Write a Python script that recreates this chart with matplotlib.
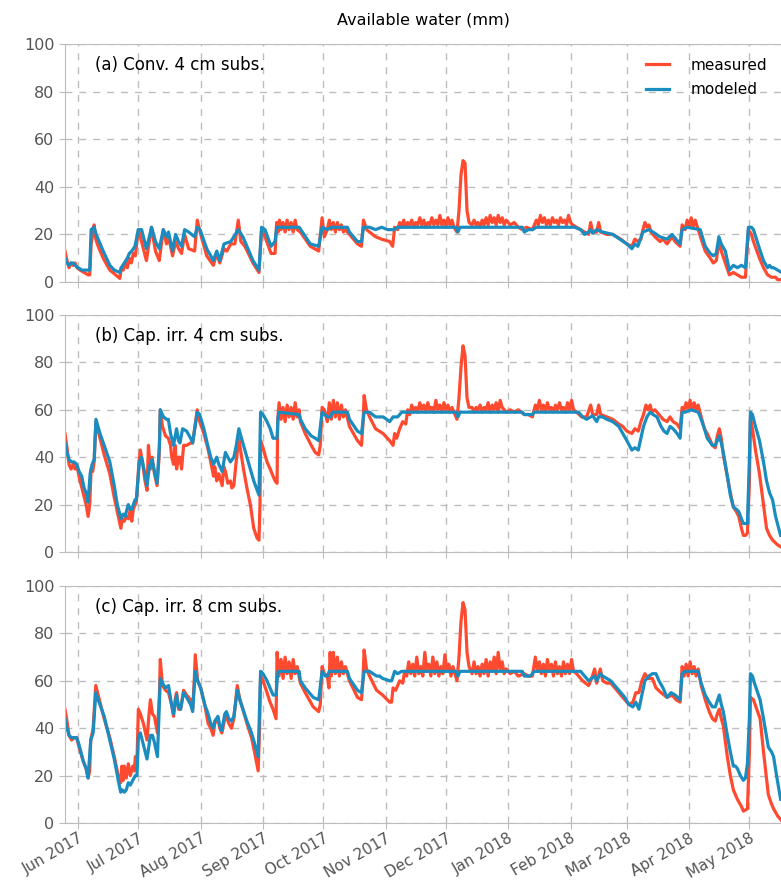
import numpy as np
import pandas as pd
import matplotlib
matplotlib.use("Agg")
import matplotlib.pyplot as plt
import matplotlib.dates as mdates

# day offsets from 2017-05-25 and values (mm)
start = pd.Timestamp("2017-05-25")

# ---- (a) Conv. 4 cm subs. ----
a_meas_day = [0.5, 1.5, 2.5, 3.5, 4.5, 5.5, 6.5, 8, 10, 12, 12.8, 13.5, 14.3, 15, 15.8, 17, 19.5, 22.8, 25, 27.8,
              28.5, 29.5, 30.5, 31.5, 32.5, 33.5, 34.5, 35.5, 37, 38.6, 41, 43.5, 45.5, 47.4, 49.4, 51, 52, 54, 55.5, 57,
              58.5, 60, 62, 65, 66.3, 67.7, 71, 74.3, 76, 77.5, 79.6, 81, 83, 85, 86.7, 88, 90, 94, 97, 98.3,
              100, 103, 105, 105.8, 106.5, 107.2, 108, 109, 110, 111, 112, 113, 114, 115, 116, 117.6, 122.5, 126.7, 128.4, 129.5,
              131, 132, 133, 134, 135, 136, 137, 138, 139, 140, 142, 146, 148, 149, 150.5, 155, 158, 162, 163.5, 164.5,
              166, 167, 168, 169, 170, 171, 172, 173, 174, 175, 176, 177, 178, 179, 180, 181, 182, 183, 184, 185,
              186, 187, 188, 189, 190, 191, 192, 193, 194, 195.5, 196.5, 197.5, 198.5, 199.5, 200.5, 201.5, 203, 204, 205, 206,
              207, 208, 209, 210, 211, 212, 213, 214, 215, 216, 217, 218, 219, 220, 222, 224, 226, 228, 230, 233,
              235, 236, 237, 238, 239, 240, 241, 242, 243, 244, 245, 246, 247, 248, 249, 250, 251, 252, 253, 255,
              257, 259, 261, 262, 263, 265, 266, 267, 270, 273, 277, 280, 282.5, 284, 285.5, 287, 288, 289, 290, 291,
              292, 294, 296.5, 298, 300, 302.5, 304, 306.5, 307.5, 309, 310, 311, 312, 313, 314, 315.5, 317, 319, 321.5, 323,
              324.5, 325.8, 327, 329, 331, 333, 335, 337, 339, 340.5, 342, 343, 346, 348, 350, 352, 354, 355, 357]
a_meas = [13, 9, 6, 8, 7, 8, 6, 5, 4, 3, 3, 16, 20, 24, 18, 15, 10, 5, 3.5, 1.5,
          6, 5, 8, 6, 10, 8, 12, 11, 22, 17, 9, 23, 13, 9, 22, 16, 19, 11, 17, 14,
          12, 20, 14, 13, 26, 21, 11, 7, 12, 8, 14, 13, 16, 16, 26, 17, 15, 8, 4, 22,
          19, 12, 12, 25, 21, 26, 22, 25, 21, 26, 22, 25, 21, 26, 22, 21, 15, 13, 27, 19,
          22, 26, 22, 25, 21, 25, 22, 24, 21, 22, 20, 16, 15, 26, 22, 19, 18, 17, 15, 23,
          22, 25, 23, 26, 23, 25, 24, 26, 23, 25, 24, 27, 24, 26, 23, 25, 24, 27, 24, 26,
          24, 28, 24, 26, 23, 27, 24, 26, 23, 21, 30, 45, 51, 50, 30, 25, 24, 26, 24, 25,
          23, 26, 24, 27, 24, 28, 25, 27, 24, 28, 25, 27, 24, 26, 24, 25, 23, 22, 23, 22,
          26, 24, 28, 25, 27, 24, 26, 24, 27, 25, 26, 24, 27, 25, 26, 24, 28, 25, 24, 23,
          22, 21, 20, 25, 21, 21, 25, 21, 20, 20, 18, 16, 15, 18, 17, 18, 22, 25, 23, 24,
          21, 19, 17, 18, 16, 19, 17, 15, 24, 22, 26, 23, 27, 23, 26, 22, 18, 13, 10, 8,
          9, 17, 13, 8, 3, 4, 3, 2, 2, 22, 20, 17, 10, 6, 3, 2, 2, 1, 1]
a_mod_day = [0.5, 1.5, 2.5, 3.5, 4.5, 5.5, 7, 9, 11, 12.8, 13.5, 15, 16, 19.5, 22.8, 25, 27.8, 28.5, 30, 31.5,
             32.5, 33.7, 35.3, 37, 38.6, 41, 43.6, 45.5, 47.4, 49.4, 51, 52, 54, 55.5, 57, 58.5, 60, 62, 65, 66.3,
             67.7, 71, 74.3, 76, 77.5, 79.6, 83, 86.7, 89, 94, 97, 98.3, 100, 103, 105, 105.8, 117, 122.5, 126.7, 128.4,
             131, 133, 141, 142, 146, 148, 149, 152, 155, 158, 161, 164, 166, 195, 196, 197, 228, 229, 231, 233,
             235, 254, 257, 259, 261, 262, 263, 265, 268, 273, 280, 282.5, 284, 285.5, 288, 291, 293, 296.5, 300, 302.5,
             306.5, 307.5, 310, 316.5, 319, 321.5, 323, 324.5, 325.8, 327, 329, 331, 333, 335, 337, 339, 340.5, 342, 343, 346,
             348, 350, 351, 352, 353, 355, 357]
a_mod = [10, 8, 7, 8, 8, 7, 6, 5, 5, 5, 22, 23, 20, 13, 7, 5, 4, 6, 8, 10,
         12, 13, 15, 22, 22, 14, 23, 17, 14, 22, 19, 21, 13, 20, 17, 15, 22, 21, 19, 23,
         22, 14, 9, 13, 9, 16, 17, 22, 19, 9, 5, 23, 22, 15, 17, 23, 23, 16, 15, 23,
         22, 23, 23, 21, 17, 17, 23, 23, 22, 23, 22, 22, 23, 23, 21, 23, 23, 21, 22, 22,
         23, 23, 22, 20, 21, 22, 20.5, 22, 21, 20, 16, 14, 16, 15, 21, 22, 21, 19, 18, 20,
         16, 22, 23, 22, 15, 12, 11, 12, 19, 16, 13, 5, 7, 6, 7, 6, 23, 23, 22, 14,
         9, 6, 7, 6, 6, 5, 4]

# ---- (b) Cap. irr. 4 cm subs. ----
b_meas_day = [0.5, 1.5, 2.5, 3.5, 4.5, 5.5, 6.5, 8, 9.5, 11, 12, 12.8, 13.5, 14.3, 15, 15.9, 17.9, 20, 22.8, 25,
              26.5, 27.8, 28.3, 29, 30, 31, 32, 33, 33.7, 34.5, 35.3, 36, 37.3, 38, 39, 40.3, 41.3, 42, 43, 43.8,
              45, 46.3, 47.3, 47.9, 49, 50.5, 51.9, 53, 53.6, 54.5, 55.3, 56, 57, 57.7, 58.5, 59.5, 61, 63, 64, 65.5,
              66.3, 67.5, 69.6, 71.5, 73, 74.4, 75, 76, 77, 78.7, 79.5, 80.3, 81.5, 82.8, 83.5, 84.5, 85.5, 87, 88, 89.3,
              91, 92.7, 94.4, 96, 97, 97.5, 97.8, 99, 101, 102.6, 104, 105, 106, 106.3, 107, 108, 109, 110, 111, 112,
              113, 114, 115, 116, 117, 117.6, 120, 123, 125, 126.7, 127.5, 128.4, 129.5, 131, 132, 133, 134, 135, 136, 137,
              138, 139, 140, 142, 146, 148, 148.8, 149.3, 150.5, 152, 155, 158.7, 162, 163.7, 164.5, 165.5, 167, 168.5, 170, 171,
              172, 173, 174, 175, 176, 177, 178, 179, 180, 181, 182, 183, 184, 185, 186, 187, 188, 189, 190, 191,
              192, 193, 194, 195.5, 196.5, 197.5, 198.5, 199.5, 200.5, 201.5, 203, 204, 205, 206, 207, 208, 209, 210, 211, 212,
              213, 214, 215, 216, 217, 218, 219, 220, 222, 224, 226, 229, 231, 233, 234.5, 235.5, 236.5, 237.5, 238.5, 239.5,
              240.5, 241.5, 242.5, 243.5, 244.5, 245.5, 246.5, 247.5, 248.5, 249.5, 250.5, 251.5, 252.5, 253.5, 255, 257.5, 260, 262, 263, 265,
              266, 267, 270, 273, 276, 278, 280, 282.5, 284, 285.7, 287, 288.3, 289.5, 290.5, 291.6, 292.5, 294, 296, 298, 300,
              301.5, 303, 305, 306.5, 307.5, 308.5, 309.5, 310.5, 311.5, 312.5, 313.5, 314.5, 315.5, 317, 318.6, 320, 322.6, 324, 325, 326,
              327, 328, 330, 331.5, 333, 334.5, 335.7, 337, 338, 339, 340, 341, 341.5, 342.5, 344, 346, 348, 349.5, 351, 352.5,
              353.8, 355, 357]
b_meas = [50, 44, 37, 35, 37, 35, 36, 30, 25, 20, 15, 20, 35, 34, 38, 55, 48, 41, 33, 23,
          17, 12, 10, 14, 13, 15, 14, 18, 13, 18, 20, 21, 38, 43, 38, 30, 26, 45, 35, 40,
          33, 28, 40, 60, 53, 49, 48, 45, 40, 37, 45, 35, 40, 40, 35, 45, 45, 46, 46, 55,
          60, 55, 50, 44, 38, 32, 36, 30, 33, 28, 36, 34, 29, 30, 27, 28, 37, 48, 42, 35,
          27, 20, 10, 6, 5, 20, 47, 44, 38, 35, 32, 30, 29, 55, 63, 56, 61, 55, 62, 57,
          61, 56, 63, 57, 60, 55, 50, 45, 42, 41, 45, 61, 60, 55, 63, 56, 64, 57, 63, 56,
          62, 57, 60, 53, 47, 45, 55, 66, 60, 57, 52, 50, 47, 45, 50, 48, 52, 55, 54, 60,
          58, 62, 59, 61, 59, 63, 60, 62, 59, 63, 60, 61, 59, 64, 60, 62, 59, 63, 60, 62,
          59, 61, 59, 56, 65, 78, 87, 83, 65, 61, 61, 59, 61, 60, 62, 59, 61, 60, 63, 59,
          62, 60, 63, 59, 64, 61, 60, 59, 60, 59, 60, 58, 58, 57, 62, 60, 64, 60, 62, 59,
          63, 60, 61, 59, 62, 60, 63, 60, 61, 59, 63, 60, 64, 60, 59, 57, 57, 62, 58, 58,
          62, 58, 57, 56, 54, 53, 51, 50, 52, 51, 55, 58, 62, 60, 62, 59, 60, 58, 56, 55,
          57, 55, 54, 52, 61, 60, 63, 60, 64, 60, 63, 60, 62, 57, 52, 50, 45, 44, 49, 52,
          48, 41, 32, 25, 19, 17, 15, 10, 7, 7, 8, 30, 57, 52, 43, 33, 20, 10, 7, 5,
          4, 3, 2]
b_mod_day = [0.5, 1.5, 2.5, 3.8, 5, 6.3, 7.5, 8.8, 10, 11, 12, 13, 14, 15, 15.9, 17.9, 20, 22.8, 25, 26.5,
             27.8, 28.3, 29.5, 30.5, 31, 32, 33, 33.7, 35.3, 36, 37.5, 38.6, 40, 41.3, 42.5, 43.8, 45, 46.3, 47.5, 47.9,
             49.5, 51, 51.9, 53, 53.6, 54.5, 56, 57, 57.7, 59, 61, 63, 64, 66.3, 67.5, 69.6, 71.5, 73, 74.4, 76,
             77, 78.7, 80.3, 81.5, 82.8, 84.5, 85.5, 87, 89.3, 92.7, 94.4, 97, 97.8, 99, 101, 102.6, 104, 106, 106.5, 107,
             117, 117.6, 120, 123, 125, 126.7, 128.4, 131, 132.6, 133.5, 141, 142, 146, 148, 149.3, 152, 155, 158.7, 160.5, 162,
             163.7, 166, 168, 195, 196, 197, 228, 229, 231, 233, 234, 256, 258, 260, 262, 263, 265, 266, 268, 270,
             273, 276, 278, 280, 282.5, 284, 285.7, 287, 288.3, 290, 291.6, 293, 295, 297, 298.5, 300, 301.5, 303, 305, 306.5,
             307.5, 309, 312, 315.5, 317, 318.6, 320, 322.6, 324, 326, 327, 328, 330, 331.5, 333, 334.5, 335.7, 337, 338, 340,
             341, 341.5, 342.5, 344, 346, 348, 349.5, 351, 352.5, 354, 356.5]
b_mod = [46, 42, 39, 38, 38, 37, 34, 32, 27, 25, 21, 33, 37, 39, 56, 50, 45, 38, 28, 20,
         16, 14, 16, 15, 17, 20, 18, 18, 22, 22, 38, 40, 34, 28, 36, 39, 34, 29, 45, 60,
         57, 56, 56, 50, 48, 45, 52, 47, 46, 52, 51, 48, 46, 59, 58, 52, 45, 40, 37, 40,
         37, 34, 42, 40, 38, 40, 44, 52, 45, 35, 30, 24, 59, 58, 55, 52, 48, 48, 57, 59,
         58, 56, 52, 49, 48, 47, 59, 57, 57, 59, 59, 56, 51, 50, 59, 59, 57, 57, 56, 55,
         57, 57, 59, 59, 57, 59, 59, 58, 58, 58, 59, 59, 57, 56, 57, 57.5, 55, 57, 57, 56,
         55, 53, 50, 47, 43, 44, 43, 48, 53, 57, 59, 58, 57, 53, 51, 50, 53, 52, 50, 48,
         59, 59, 60, 59, 56, 52, 48, 45, 45, 49, 46, 42, 32, 24, 19, 18, 17, 14, 12, 12,
         40, 59, 58, 53, 47, 38, 30, 25, 22, 15, 7]

# ---- (c) Cap. irr. 8 cm subs. ----
c_meas_day = [0.5, 1.5, 2.5, 3.8, 5, 6.3, 7.5, 9.6, 11, 12, 12.8, 13.3, 14.5, 15.8, 17, 20, 22.8, 25, 27, 28.2,
              28.8, 29.5, 30, 31, 32, 33, 34.2, 35, 35.5, 36.3, 37, 38, 39.5, 41.3, 42.2, 43, 44, 45, 46.5, 47.5,
              47.9, 49, 50.5, 52, 53.5, 54.5, 55.3, 56, 57, 58, 59.5, 61, 63, 64, 64.8, 65.3, 66.5, 68, 70, 71.7,
              73, 74.2, 75, 76.6, 77.5, 78.5, 80, 80.8, 82, 83.3, 84.5, 86.2, 87.5, 89, 91, 93.3, 95, 96.6, 97.3, 97.8,
              99, 101, 102.5, 104, 105.5, 106, 107, 108, 109, 110, 111, 112, 113, 114, 115, 116, 117.6, 120, 124, 126.7,
              127.5, 128.4, 129.5, 131, 131.8, 132.4, 133, 134, 135, 136, 137, 138, 139, 140, 142, 146, 148, 148.7, 149.3, 150.5,
              152, 155.5, 158.5, 162, 163, 163.7, 165, 167, 168.5, 169.5, 170.5, 171.5, 172.5, 173.5, 174.5, 175.5, 176.5, 177.5, 178.5, 179.5,
              180.5, 181.5, 182.5, 183.5, 184.5, 185.5, 186.5, 187.5, 188.5, 189.5, 190.5, 191.5, 192.5, 193.5, 195.5, 196.5, 197.5, 198.5, 199.5, 200.5,
              201.5, 203, 204, 205, 206, 207, 208, 209, 210, 211, 212, 213, 214, 215, 216, 217, 218, 219, 220, 222,
              224, 226, 229, 231, 233, 234.5, 235.5, 236.5, 237.5, 238.5, 239.5, 240.5, 241.5, 242.5, 243.5, 244.5, 245.5, 246.5, 247.5, 248.5,
              249.5, 250.5, 251.5, 252.5, 253.5, 255, 258, 261, 262.5, 264, 265, 266.8, 268, 270, 272, 275, 279, 281, 283, 284.5,
              286, 287.5, 289, 290.5, 292.7, 294.5, 297, 300, 302.5, 304.5, 306.5, 307.5, 308.5, 309.5, 310.5, 311.5, 312.5, 313.5, 314.5, 315.5,
              317, 319, 321, 322.6, 324, 325, 326, 327, 328, 330, 331.5, 333, 335, 337, 338, 340, 341, 341.5, 343, 346.3,
              348, 350.4, 352, 353, 355, 357]
c_meas = [48, 43, 37, 35, 36, 36, 32, 26, 23, 19, 22, 35, 40, 58, 54, 44, 36, 28, 20, 17,
          24, 18, 24, 19, 25, 20, 24, 22, 28, 26, 48, 46, 42, 35, 45, 52, 46, 45, 38, 55,
          69, 58, 56, 55, 50, 45, 52, 55, 48, 48, 56, 54, 52, 48, 60, 71, 60, 57, 50, 42,
          40, 37, 42, 44, 40, 38, 44, 45, 42, 40, 44, 58, 52, 48, 42, 36, 29, 22, 40, 62,
          60, 55, 51, 48, 44, 72, 62, 69, 61, 70, 63, 68, 61, 69, 63, 66, 59, 55, 49, 47,
          50, 66, 63, 62, 57, 72, 62, 72, 63, 70, 62, 68, 63, 66, 60, 53, 52, 60, 73, 65,
          62, 56, 54, 51, 51, 57, 56, 60, 59, 64, 62, 68, 63, 67, 62, 70, 63, 66, 62, 72,
          64, 67, 62, 70, 63, 68, 62, 66, 63, 71, 64, 67, 62, 66, 60, 70, 85, 93, 90, 72,
          66, 63, 68, 63, 66, 62, 67, 63, 69, 62, 68, 64, 70, 63, 72, 65, 68, 63, 65, 63,
          64, 62, 63, 62, 62, 70, 64, 68, 63, 67, 62, 69, 64, 67, 62, 68, 63, 66, 62, 68,
          63, 67, 63, 69, 64, 63, 60, 58, 61, 65, 59, 65, 60, 59, 59, 56, 52, 50, 51, 55,
          55, 60, 63, 61, 61, 57, 55, 53, 54, 52, 51, 66, 62, 67, 62, 68, 63, 66, 62, 65,
          58, 52, 47, 44, 43, 46, 48, 44, 41, 28, 20, 14, 10, 7, 5, 6, 30, 53, 52, 44,
          30, 12, 8, 6, 3, 1]
c_mod_day = [0.5, 1.5, 2.5, 3.8, 5, 6.3, 7.5, 9.6, 11, 12, 13.3, 14.5, 15.8, 17, 20, 22.8, 25, 27, 28.2, 29,
             30, 31, 32, 33, 34.2, 35.5, 36.3, 37, 38, 39.5, 41.3, 43, 44, 45, 46.5, 47.9, 49, 50.5, 52, 53.5,
             54.5, 56, 57, 58, 59.5, 61, 63, 64, 65.3, 66.5, 68, 70, 71.7, 73, 74.2, 75, 76.6, 77.5, 78.5, 80,
             80.8, 82, 83.3, 84.5, 86.2, 87.5, 89, 91, 93.3, 95, 96.6, 97.8, 99, 101, 102.5, 104, 105.5, 106, 106.5, 117,
             117.6, 120, 124, 126.7, 128.4, 130, 131, 132, 141, 142, 146, 148, 149.3, 152, 155.5, 157, 158.5, 162, 163, 164.5,
             166, 168, 195, 196, 197, 228, 229, 232, 234, 257, 259, 261, 262.5, 264, 265, 266.8, 268, 272, 275, 279,
             281, 283, 284.5, 286, 287.5, 289, 291, 292.7, 294.5, 296, 298, 300, 302, 304, 306.5, 307.5, 309, 315.5, 317, 319,
             321, 322.6, 324, 326, 327, 328, 330, 331.5, 333, 334, 335, 336.5, 338, 339, 340, 341, 341.5, 342.5, 343.5, 346.3,
             348, 350.4, 352, 353, 354.5, 356.5]
c_mod = [44, 40, 37, 36, 36, 36, 33, 26, 23, 19, 35, 38, 55, 52, 45, 35, 27, 18, 13, 14,
         13, 14, 17, 16, 18, 20, 20, 36, 38, 33, 27, 37, 37, 34, 28, 61, 59, 57, 58, 50,
         46, 54, 49, 48, 55, 53, 50, 47, 64, 60, 57, 50, 46, 42, 40, 43, 45, 41, 39, 46,
         47, 44, 43, 45, 56, 52, 48, 43, 38, 33, 28, 64, 63, 60, 57, 54, 54, 60, 64, 64,
         60, 57, 53, 52, 64, 62, 62, 64, 64, 61, 56, 55, 64, 64, 62, 62, 61, 60, 60, 64,
         63, 64, 64, 62, 64, 64, 62, 62, 64, 64, 62, 60, 61, 62, 60, 63, 62, 60, 57, 53,
         50, 49, 51, 48, 54, 60, 62, 63, 63, 60, 57, 53, 55, 54, 52, 63, 64, 64, 59, 54,
         51, 49, 49, 54, 50, 47, 37, 30, 24, 24, 23, 20, 18, 19, 25, 45, 63, 62, 59, 52,
         44, 32, 30, 28, 20, 10]

panels = [
    ("(a) Conv. 4 cm subs.", a_meas_day, a_meas, a_mod_day, a_mod),
    ("(b) Cap. irr. 4 cm subs.", b_meas_day, b_meas, b_mod_day, b_mod),
    ("(c) Cap. irr. 8 cm subs.", c_meas_day, c_meas, c_mod_day, c_mod),
]

red = "#ff4a30"
blue = "#1a8cbf"
grey = "#bdbdbd"

fig = plt.figure(figsize=(7.81, 8.81), dpi=100)

# axes boxes in pixels: top, bottom
boxes = [(44, 282), (315, 552), (586, 823)]
left_px, right_px = 65, 781

def to_dates(days):
    return start + pd.to_timedelta(np.asarray(days, dtype=float), unit="D")

for i, ((label, md, mv, sd, sv), (top, bot)) in enumerate(zip(panels, boxes)):
    ax = fig.add_axes([left_px / 781, 1 - bot / 881, (right_px - left_px) / 781, (bot - top) / 881])
    ax.plot(to_dates(md), mv, color=red, lw=2.3, label="measured", solid_joinstyle="round")
    ax.plot(to_dates(sd), sv, color=blue, lw=2.3, label="modeled", solid_joinstyle="round")

    ax.set_ylim(0, 100)
    ax.set_xlim(start + pd.Timedelta(days=0.5), start + pd.Timedelta(days=356.7))
    ax.set_yticks([0, 20, 40, 60, 80, 100])
    ax.xaxis.set_major_locator(mdates.MonthLocator())
    ax.xaxis.set_major_formatter(mdates.DateFormatter("%b %Y"))

    ax.grid(True, color=grey, linestyle=(0, (5, 5)), lw=1.0)
    ax.set_axisbelow(True)
    for s in ["left", "top", "bottom"]:
        ax.spines[s].set_color(grey)
    ax.spines["right"].set_visible(False)
    ax.tick_params(axis="both", colors=grey, labelcolor="#555555", labelsize=11.5, length=4)
    ax.tick_params(axis="x", pad=1.5)

    ax.text(0.042, 0.912, label, transform=ax.transAxes, fontsize=12, va="center", ha="left")

    if i < 2:
        ax.tick_params(axis="x", labelbottom=False)
    else:
        plt.setp(ax.get_xticklabels(), rotation=30, ha="right", rotation_mode="anchor", fontsize=11)

    if i == 0:
        ax.legend(loc="upper right", bbox_to_anchor=(1.0, 1.0), frameon=False, fontsize=11,
                  handlelength=1.5, handletextpad=1.4, labelspacing=0.6)

fig.text(left_px / 781 + (right_px - left_px) / 781 / 2, 1 - 20 / 881, "Available water (mm)",
         ha="center", va="center", fontsize=11.5)

fig.savefig("out.png", dpi=100)
